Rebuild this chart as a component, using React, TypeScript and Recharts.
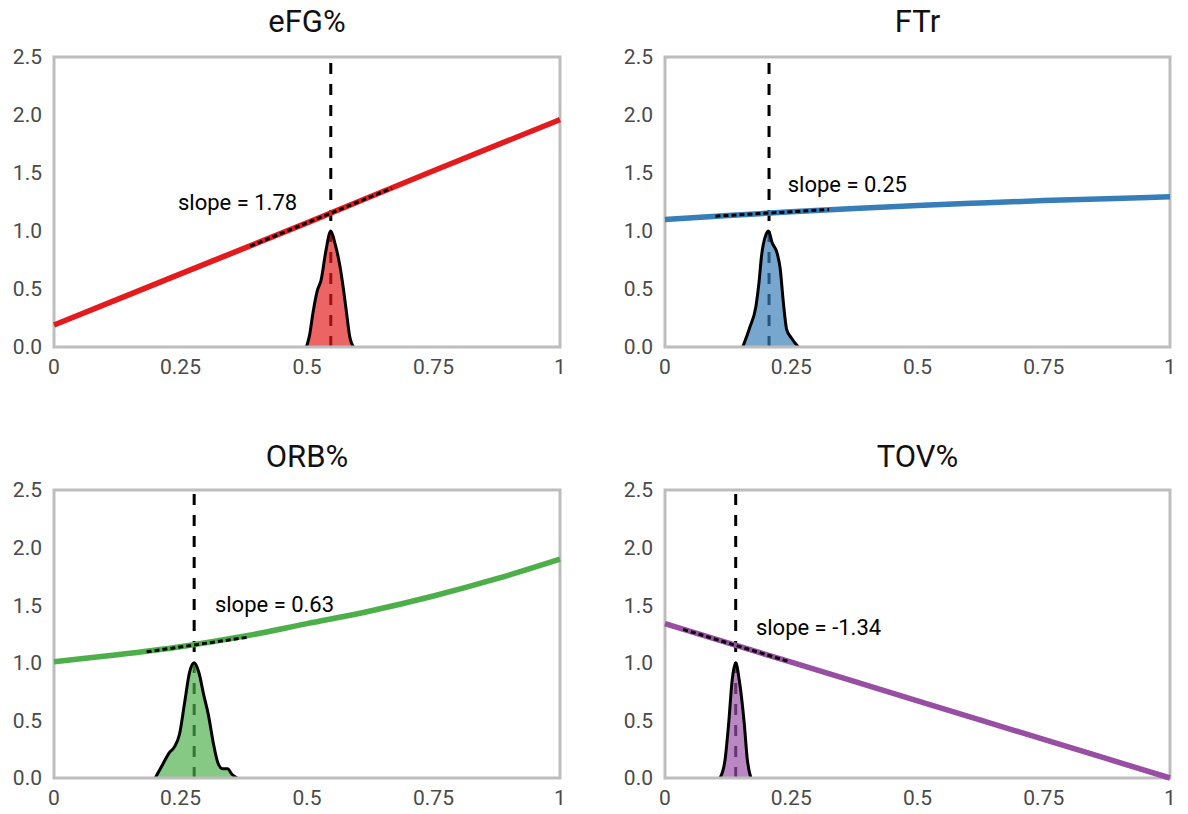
import { Area, ComposedChart, Line, ReferenceArea, ReferenceDot, XAxis, YAxis } from "recharts";

const titles = ["eFG%", "FTr", "ORB%", "TOV%"];
const slopes = [1.78, 0.25, 0.63, -1.34];
const means = [0.547, 0.206, 0.277, 0.14];
const xTicks = [0, 0.25, 0.5, 0.75, 1];
const yTicks = [0, 0.5, 1, 1.5, 2, 2.5];

// fitted curve [x, y]
const efgCurve = [[0, 0.19], [0.25, 0.63], [0.5, 1.07], [0.75, 1.52], [1, 1.96]];
const ftrCurve = [[0, 1.1], [0.125, 1.134], [0.25, 1.165], [0.375, 1.194], [0.5, 1.22], [0.625, 1.242], [0.75, 1.262], [0.875, 1.279], [1, 1.295]];
const orbCurve = [[0, 1.01], [0.125, 1.07], [0.25, 1.14], [0.375, 1.23], [0.5, 1.34], [0.625, 1.45], [0.75, 1.58], [0.875, 1.73], [1, 1.9]];
const tovCurve = [[0, 1.34], [0.25, 1.005], [0.5, 0.67], [0.75, 0.335], [1, 0]];

// tangent segments at the mean
const efgTangent = [[0.388, 0.87], [0.668, 1.37]];
const ftrTangent = [[0.1, 1.128], [0.325, 1.185]];
const orbTangent = [[0.183, 1.095], [0.383, 1.222]];
const tovTangent = [[0.036, 1.29], [0.246, 1.01]];

// scaled densities
const efgDensity = [[0.499, 0], [0.505, 0.1], [0.512, 0.3], [0.52, 0.48], [0.528, 0.58], [0.537, 0.82], [0.547, 1.0], [0.556, 0.88], [0.565, 0.7], [0.572, 0.5], [0.578, 0.3], [0.584, 0.1], [0.592, 0]];
const ftrDensity = [[0.154, 0], [0.168, 0.17], [0.18, 0.35], [0.186, 0.55], [0.191, 0.78], [0.2, 0.97], [0.205, 1.0], [0.212, 0.9], [0.222, 0.81], [0.228, 0.68], [0.234, 0.4], [0.241, 0.15], [0.25, 0.08], [0.264, 0]];
const orbDensity = [[0.2, 0], [0.215, 0.12], [0.228, 0.22], [0.238, 0.27], [0.248, 0.38], [0.258, 0.65], [0.268, 0.92], [0.277, 1.0], [0.286, 0.92], [0.296, 0.72], [0.305, 0.55], [0.315, 0.3], [0.324, 0.13], [0.333, 0.08], [0.343, 0.08], [0.352, 0.03], [0.362, 0]];
const tovDensity = [[0.109, 0], [0.119, 0.16], [0.126, 0.47], [0.133, 0.85], [0.14, 1.0], [0.147, 0.85], [0.157, 0.47], [0.163, 0.16], [0.17, 0]];

// where the slope text sits (data coords)
const labelSpots = [[0.245, 1.25], [0.243, 1.405], [0.318, 1.51], [0.18, 1.31]];

const curves = [efgCurve, ftrCurve, orbCurve, tovCurve];
const tangents = [efgTangent, ftrTangent, orbTangent, tovTangent];
const densities = [efgDensity, ftrDensity, orbDensity, tovDensity];
const colors = ["#e41a1c", "#377eb8", "#4daf4a", "#984ea3"];

const layout = [
  { left: 0, top: 0, width: 594, height: 407, margin: { top: 57, right: 34, left: 0, bottom: 20 }, xh: 40 },
  { left: 594, top: 0, width: 594, height: 407, margin: { top: 57, right: 18, left: 17, bottom: 20 }, xh: 40 },
  { left: 0, top: 435, width: 594, height: 379, margin: { top: 55, right: 34, left: 0, bottom: 6 }, xh: 30 },
  { left: 594, top: 435, width: 594, height: 379, margin: { top: 55, right: 18, left: 17, bottom: 6 }, xh: 30 },
];

const toPts = (arr: number[][]) => arr.map(([x, y]) => ({ x, y }));
const tickStyle = { fill: "#4a4a4a", fontSize: 21 };

const Panel = ({ i }: { i: number }) => {
  const l = layout[i];
  const m = means[i];
  const vline = [{ x: m, y: 0 }, { x: m, y: 2.5 }];
  const plotLeft = l.margin.left + 54;
  const plotWidth = l.width - plotLeft - l.margin.right;
  return (
    <div style={{ position: "absolute", left: l.left, top: l.top, width: l.width, height: l.height }}>
      <div
        style={{
          position: "absolute",
          left: plotLeft,
          width: plotWidth,
          top: 4,
          lineHeight: "36px",
          fontSize: 31,
          textAlign: "center",
          color: "#111",
        }}
      >
        {titles[i]}
      </div>
      <ComposedChart width={l.width} height={l.height} margin={l.margin}>
        <XAxis
          type="number"
          dataKey="x"
          domain={[0, 1]}
          ticks={xTicks}
          interval={0}
          axisLine={false}
          tickLine={false}
          tickSize={0}
          tickMargin={12}
          height={l.xh}
          tick={tickStyle}
        />
        <YAxis
          type="number"
          dataKey="y"
          domain={[0, 2.5]}
          ticks={yTicks}
          interval={0}
          axisLine={false}
          tickLine={false}
          tickSize={0}
          tickMargin={12}
          width={54}
          tick={tickStyle}
          tickFormatter={(v: number) => v.toFixed(1)}
        />
        <Line
          data={vline}
          dataKey="y"
          stroke="#000"
          strokeWidth={3}
          strokeDasharray="11 10"
          dot={false}
          activeDot={false}
          isAnimationActive={false}
          zIndex={50}
        />
        <Area
          data={toPts(densities[i])}
          dataKey="y"
          type="monotone"
          stroke="#000"
          strokeWidth={3}
          fill={colors[i]}
          fillOpacity={0.68}
          dot={false}
          activeDot={false}
          isAnimationActive={false}
        />
        <Line
          data={toPts(curves[i])}
          dataKey="y"
          type="monotone"
          stroke={colors[i]}
          strokeWidth={5.5}
          dot={false}
          activeDot={false}
          isAnimationActive={false}
        />
        <Line
          data={toPts(tangents[i])}
          dataKey="y"
          stroke="#000"
          strokeWidth={3}
          strokeDasharray="5 3"
          dot={false}
          activeDot={false}
          isAnimationActive={false}
        />
        <ReferenceArea x1={0} x2={1} y1={0} y2={2.5} fill="none" stroke="#bdbdbd" strokeWidth={3} />
        <ReferenceDot
          x={labelSpots[i][0]}
          y={labelSpots[i][1]}
          r={0}
          fill="none"
          stroke="none"
          label={{ value: `slope = ${slopes[i].toFixed(2)}`, position: "right", offset: 0, fill: "#000", fontSize: 22 }}
        />
      </ComposedChart>
    </div>
  );
};

export default function App() {
  return (
    <div
      style={{
        position: "absolute",
        left: 0,
        top: 0,
        width: 1188,
        height: 814,
        background: "#fff",
        fontFamily: "Roboto, sans-serif",
      }}
    >
      {titles.map((_, i) => (
        <Panel key={i} i={i} />
      ))}
    </div>
  );
}
